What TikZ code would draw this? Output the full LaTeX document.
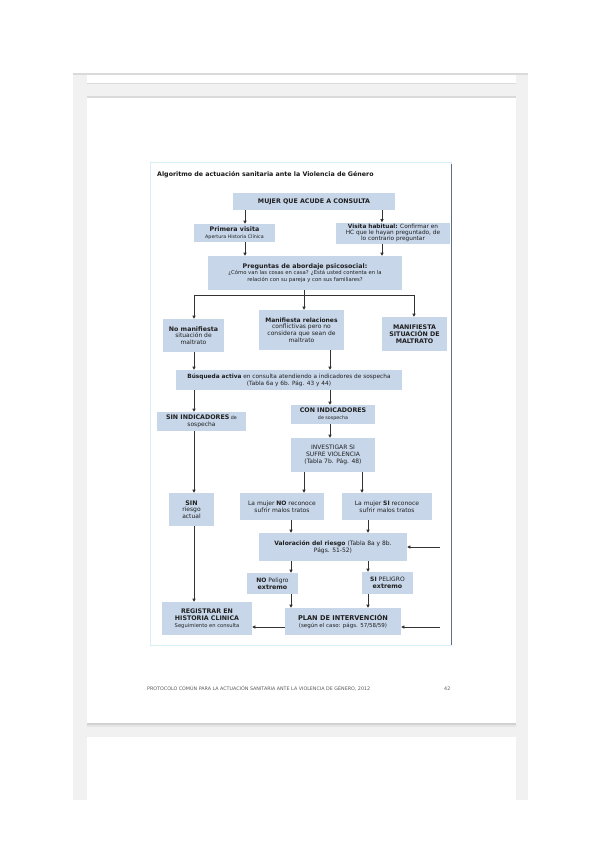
\documentclass[tikz,border=0pt]{standalone}
\usepackage{fontspec}
\setmainfont{DejaVu Sans}
\usetikzlibrary{arrows.meta}
\definecolor{boxblue}{RGB}{199,214,233}
\definecolor{pagegray}{RGB}{241,241,241}
\definecolor{lineg}{RGB}{218,218,218}
\definecolor{framecyan}{RGB}{214,240,246}
\definecolor{frameblue}{RGB}{90,110,135}
\newcommand{\myB}{\fontsize{6.3}{7}\selectfont\bfseries}
\newcommand{\myS}{\fontsize{6}{6.8}\selectfont\mdseries}
\newcommand{\myX}{\fontsize{4.8}{5.6}\selectfont\mdseries}
\newcommand{\fsz}[2]{\fontsize{#1}{#2}\selectfont\mdseries}
\begin{document}
\begin{tikzpicture}[x=1pt,y=-1pt,
  box/.style={fill=boxblue, draw=none, align=center, inner sep=1pt, text=black!88, font=\myS},
  arr/.style={-{Triangle[length=3.2pt,width=3.2pt]}, line width=1pt, draw=black!80},
  ln/.style={line width=1pt, draw=black!80}]
\useasboundingbox (0,0) rectangle (600,848);
\fill[white] (0,0) rectangle (600,848);
% page frame
\fill[pagegray] (73,73) rectangle (528,800);
\fill[lineg] (73,73) rectangle (528,75);
\fill[white] (87,75) rectangle (516,83);
\fill[lineg] (87,83) rectangle (516,84);
\fill[lineg] (87,96) rectangle (516,98);
\fill[white] (87,98) rectangle (516,723);
\fill[black!18] (87,723) rectangle (516,725);
\fill[black!10] (87,725) rectangle (516,727);
\fill[white] (87,737) rectangle (516,800);
% diagram frame
\draw[framecyan, line width=0.8pt] (150,162) rectangle (451,645);
\draw[frameblue, line width=0.8pt] (451,164) -- (451,645);
\node[anchor=west, inner sep=0pt, font=\fontsize{6.3}{7}\selectfont\bfseries, text=black!90] (title) at (157,175) {Algoritmo de actuación sanitaria ante la Violencia de Género};
% nodes
\node[box, font=\myB, minimum width=162pt, minimum height=17pt] (mujer) at (314,201.5) {MUJER QUE ACUDE A CONSULTA};
\node[box, minimum width=81pt, minimum height=18pt] (primera) at (234.5,233) {\myB Primera visita\\\myX Apertura Historia Clínica};
\node[box, font=\fontsize{5.8}{6.1}\selectfont, minimum width=114pt, minimum height=21pt] (habitual) at (393,233) {{\bfseries Visita habitual:} Confirmar en\\HC que le hayan preguntado, de\\lo contrario preguntar};
\node[box, font=\fsz{5.3}{6.2}, minimum width=194pt, minimum height=34pt] (preguntas) at (305,273) {\myB Preguntas de abordaje psicosocial:\\¿Cómo van las cosas en casa? ¿Está usted contenta en la\\relación con su pareja y con sus familiares?};
\node[box, minimum width=61pt, minimum height=33pt] (nomanif) at (193.5,335.5) {\myB No manifiesta\\situación de\\maltrato};
\node[box, minimum width=85pt, minimum height=40pt] (relaciones) at (301.5,330) {\fontsize{6}{7}\selectfont\bfseries Manifiesta relaciones\\conflictivas pero no\\considera que sean de\\maltrato};
\node[box, font=\myB, minimum width=65pt, minimum height=34pt] (maltrato) at (414.5,334) {MANIFIESTA\\SITUACIÓN DE\\MALTRATO};
\node[box, font=\fsz{5.8}{6.8}, minimum width=226pt, minimum height=20pt] (busqueda) at (289,380) {{\bfseries Búsqueda activa} en consulta atendiendo a indicadores de sospecha\\(Tabla 6a y 6b. Pág. 43 y 44)};
\node[box, minimum width=89pt, minimum height=19pt] (sinind) at (201.5,421.5) {\myB SIN INDICADORES\myX{} de\\sospecha};
\node[box, minimum width=84pt, minimum height=19pt] (conind) at (333,414.5) {\myB CON INDICADORES\\\myX de sospecha};
\node[box, minimum width=84pt, minimum height=34pt] (investigar) at (333,455) {INVESTIGAR SI\\SUFRE VIOLENCIA\\(Tabla 7b. Pág. 48)};
\node[box, minimum width=45pt, minimum height=33pt] (sinriesgo) at (191.5,509.5) {\myB SIN\\riesgo\\actual};
\node[box, minimum width=84pt, minimum height=27pt] (noreconoce) at (282,506.5) {La mujer {\bfseries NO} reconoce\\sufrir malos tratos};
\node[box, minimum width=90pt, minimum height=27pt] (sireconoce) at (387,506.5) {La mujer {\bfseries SI} reconoce\\sufrir malos tratos};
\node[box, font=\fsz{6}{7}, minimum width=148pt, minimum height=28pt] (valoracion) at (333,547) {{\bfseries Valoración del riesgo} (Tabla 8a y 8b.\\Págs. 51-52)};
\node[box, minimum width=51pt, minimum height=21pt] (nopeligro) at (272.5,583.5) {{\bfseries NO} Peligro\\\myB extremo};
\node[box, minimum width=51pt, minimum height=22pt] (sipeligro) at (387.5,583) {{\bfseries SI} PELIGRO\\\myB extremo};
\node[box, font=\myB, minimum width=90pt, minimum height=33pt] (registrar) at (207,618.5) {REGISTRAR EN\\HISTORIA CLINICA\\\fsz{5.2}{6}Seguimiento en consulta};
\node[box, minimum width=116pt, minimum height=27pt] (plan) at (343,621.5) {\fontsize{6.6}{7.4}\selectfont\bfseries PLAN DE INTERVENCIÓN\\\fsz{5.5}{6.3}(según el caso: págs. 57/58/59)};
% footer
\node[anchor=west, inner sep=0pt, font=\fontsize{4.8}{5.5}\selectfont, text=black!65] (footer) at (147,689) {PROTOCOLO COMÚN PARA LA ACTUACIÓN SANITARIA ANTE LA VIOLENCIA DE GÉNERO, 2012};
\node[anchor=west, inner sep=0pt, font=\fontsize{4.8}{5.5}\selectfont, text=black!65] (pagenum) at (444,689) {42};
% column coordinates
\coordinate (x194) at (194,0);
\coordinate (x245) at (245,0);
\coordinate (x382) at (382,0);
\coordinate (x330) at (330,0);
\coordinate (x304) at (304,0);
\coordinate (x362) at (362,0);
\coordinate (x291) at (291,0);
\coordinate (x368) at (368,0);
\coordinate (jL) at (194,295);
\coordinate (jM) at (304,295);
\coordinate (jR) at (414,295);
\coordinate (rin1) at (440,547);
\coordinate (rin2) at (440,627);
% connectors
\draw[arr] (mujer.south -| x245) -- (primera.north -| x245);
\draw[arr] (mujer.south -| x382) -- (habitual.north -| x382);
\draw[arr] (primera.south -| x245) -- (preguntas.north -| x245);
\draw[arr] (habitual.south -| x382) -- (preguntas.north -| x382);
\draw[ln] (preguntas.south -| jM) -- (jM);
\draw[ln] (jL) -- (jR);
\draw[arr] (jL) -- (nomanif.north -| jL);
\draw[arr] (jM) -- (relaciones.north -| jM);
\draw[arr] (jR) -- (maltrato.north -| jR);
\draw[arr] (nomanif.south -| x194) -- (busqueda.north -| x194);
\draw[arr] (relaciones.south -| x330) -- (busqueda.north -| x330);
\draw[arr] (busqueda.south -| x194) -- (sinind.north -| x194);
\draw[arr] (busqueda.south -| x330) -- (conind.north -| x330);
\draw[arr] (conind.south -| x330) -- (investigar.north -| x330);
\draw[arr] (sinind.south -| x194) -- (sinriesgo.north -| x194);
\draw[arr] (investigar.south -| x304) -- (noreconoce.north -| x304);
\draw[arr] (investigar.south -| x362) -- (sireconoce.north -| x362);
\draw[arr] (noreconoce.south -| x291) -- (valoracion.north -| x291);
\draw[arr] (sireconoce.south -| x368) -- (valoracion.north -| x368);
\draw[arr] (rin1) -- (valoracion.east |- rin1);
\draw[arr] (valoracion.south -| x291) -- (nopeligro.north -| x291);
\draw[arr] (valoracion.south -| x368) -- (sipeligro.north -| x368);
\draw[arr] (nopeligro.south -| x291) -- (plan.north -| x291);
\draw[arr] (sipeligro.south -| x368) -- (plan.north -| x368);
\draw[arr] (rin2) -- (plan.east |- rin2);
\draw[arr] (plan.west |- rin2) -- (registrar.east |- rin2);
\draw[arr] (sinriesgo.south -| x194) -- (registrar.north -| x194);
\end{tikzpicture}
\end{document}
